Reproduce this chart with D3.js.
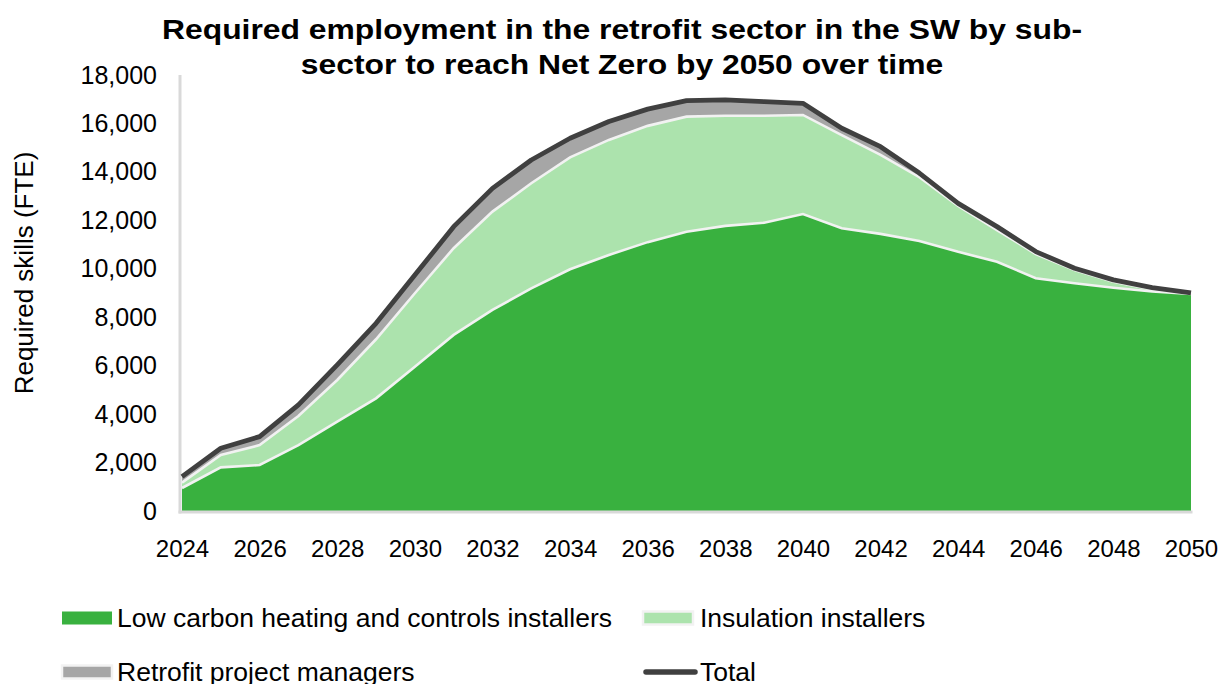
<!DOCTYPE html>
<html>
<head>
<meta charset="utf-8">
<script src="https://cdn.jsdelivr.net/npm/d3@7/dist/d3.min.js"></script>
<style>
  html, body { margin: 0; padding: 0; background: #ffffff; }
  svg { display: block; font-family: "Liberation Sans", Arial, sans-serif; }
</style>
</head>
<body>
<svg id="chart" width="1220" height="684"></svg>
<script>
// Years on the horizontal axis
const years = [2024, 2025, 2026, 2027, 2028, 2029, 2030, 2031, 2032, 2033, 2034, 2035, 2036,
               2037, 2038, 2039, 2040, 2041, 2042, 2043, 2044, 2045, 2046, 2047, 2048, 2049, 2050];

// Required FTE by sub-sector (stacked)
const lowCarbonHeating = [950, 1800, 1900, 2720, 3690, 4650, 5960, 7270, 8300, 9190, 9980, 10570, 11100,
                          11530, 11770, 11900, 12260, 11670, 11440, 11150, 10700, 10290, 9610, 9400, 9220, 9060, 8960];
const insulation = [220, 510, 820, 1200, 1720, 2440, 3030, 3580, 4060, 4340, 4620, 4750, 4800,
                    4750, 4550, 4420, 4090, 3850, 3260, 2630, 1890, 1310, 1000, 550, 250, 90, 40];
const retrofitPM = [250, 280, 350, 460, 620, 660, 750, 890, 960, 960, 790, 760, 690,
                    660, 650, 580, 480, 280, 340, 170, 110, 140, 100, 70, 70, 70, 10];

// Axis ticks
const yTicks = [0, 2000, 4000, 6000, 8000, 10000, 12000, 14000, 16000, 18000];
const xTicks = [2024, 2026, 2028, 2030, 2032, 2034, 2036, 2038, 2040, 2042, 2044, 2046, 2048, 2050];

const titleLines = ["Required employment in the retrofit sector in the SW by sub-",
                    "sector to reach Net Zero by 2050 over time"];
const yTitle = "Required skills (FTE)";
const seriesNames = ["Low carbon heating and controls installers", "Insulation installers",
                     "Retrofit project managers", "Total"];

const colors = { low: "#39b13f", ins: "#ace3ad", pm: "#a6a6a6", total: "#404040", sep: "#f2f2f2", axis: "#d9d9d9" };

const rows = years.map((yr, i) => ({
  year: yr, low: lowCarbonHeating[i], ins: insulation[i], pm: retrofitPM[i]
}));
const keys = ["low", "ins", "pm"];
const stacked = d3.stack().keys(keys)(rows);

const svg = d3.select("#chart");

const x = d3.scaleLinear().domain([2024, 2050]).range([182, 1191]);
const y = d3.scaleLinear().domain([0, 18000]).range([511, 75]);

// Stacked areas
const area = d3.area()
  .x(d => x(d.data.year))
  .y0(d => y(d[0]))
  .y1(d => y(d[1]));

svg.append("g").selectAll("path")
  .data(stacked)
  .join("path")
  .attr("d", area)
  .attr("fill", d => colors[d.key]);

// Light separators along the top of the two lower layers
const topLine = d3.line()
  .x(d => x(d.data.year))
  .y(d => y(d[1]));
svg.append("g").selectAll("path")
  .data(stacked.slice(0, 2))
  .join("path")
  .attr("d", topLine)
  .attr("fill", "none")
  .attr("stroke", colors.sep)
  .attr("stroke-width", 2.6);

// Axes
const yAxis = svg.append("g")
  .attr("transform", "translate(180,0)")
  .call(d3.axisLeft(y).tickValues(yTicks).tickFormat(d3.format(",")).tickSize(0).tickPadding(23));
const xAxis = svg.append("g")
  .attr("transform", "translate(0,512)")
  .call(d3.axisBottom(x).tickValues(xTicks).tickFormat(d3.format("d")).tickSize(0).tickPadding(28));

[yAxis, xAxis].forEach(g => {
  g.select(".domain").attr("stroke", colors.axis).attr("stroke-width", 3);
  g.selectAll("text").attr("fill", "#000")
    .attr("font-family", "'Liberation Sans', Arial, sans-serif");
});
yAxis.selectAll("text").attr("font-size", 25);
xAxis.selectAll("text").attr("font-size", 24);
xAxis.select(".domain").attr("d", "M178.5,0H1192.5");
yAxis.select(".domain").attr("d", "M0,75V513.5");

// Total line
const totalLine = d3.line()
  .x((d, i) => x(years[i]))
  .y(d => y(d));
const totals = years.map((_, i) => lowCarbonHeating[i] + insulation[i] + retrofitPM[i]);
svg.append("path")
  .attr("d", totalLine(totals))
  .attr("fill", "none")
  .attr("stroke", colors.total)
  .attr("stroke-width", 4.8)
  .attr("stroke-linejoin", "round")
  .attr("stroke-linecap", "butt");

// Title
const title = svg.append("g").attr("transform", "translate(622,0) scale(1.18,1)");
title.selectAll("text")
  .data(titleLines)
  .join("text")
  .attr("x", 0)
  .attr("y", (d, i) => 39 + i * 35)
  .attr("text-anchor", "middle")
  .attr("font-weight", "bold")
  .attr("font-size", 27)
  .attr("fill", "#000")
  .text(d => d);

// Y-axis title
svg.append("text")
  .attr("transform", "translate(24,273) rotate(-90)")
  .attr("text-anchor", "middle")
  .attr("dy", "0.35em")
  .attr("font-size", 26)
  .attr("fill", "#000")
  .text(yTitle);

// Legend (second row sits at the lower edge of the canvas)
const legendItems = [
  { name: seriesNames[0], type: "rect", fill: colors.low, stroke: "none", sx: 62, tx: 117, cy: 618 },
  { name: seriesNames[1], type: "rect", fill: colors.ins, stroke: colors.sep, sx: 643, tx: 700, cy: 618 },
  { name: seriesNames[2], type: "rect", fill: colors.pm, stroke: colors.sep, sx: 62, tx: 117, cy: 672 },
  { name: seriesNames[3], type: "line", fill: "none", stroke: colors.total, sx: 643, tx: 700, cy: 672 }
];
const legend = svg.append("g");
legendItems.forEach(it => {
  if (it.type === "rect") {
    legend.append("rect")
      .attr("x", it.sx).attr("y", it.cy - 6.5)
      .attr("width", 50).attr("height", 13)
      .attr("fill", it.fill)
      .attr("stroke", it.stroke)
      .attr("stroke-width", it.stroke === "none" ? 0 : 2.5);
  } else {
    legend.append("line")
      .attr("x1", it.sx + 3).attr("x2", it.sx + 52)
      .attr("y1", it.cy).attr("y2", it.cy)
      .attr("stroke", it.stroke).attr("stroke-width", 5.5)
      .attr("stroke-linecap", "round");
  }
  legend.append("text")
    .attr("x", it.tx).attr("y", it.cy)
    .attr("dy", "0.35em")
    .attr("font-size", 26.5)
    .attr("fill", "#000")
    .text(it.name);
});
</script>
</body>
</html>
